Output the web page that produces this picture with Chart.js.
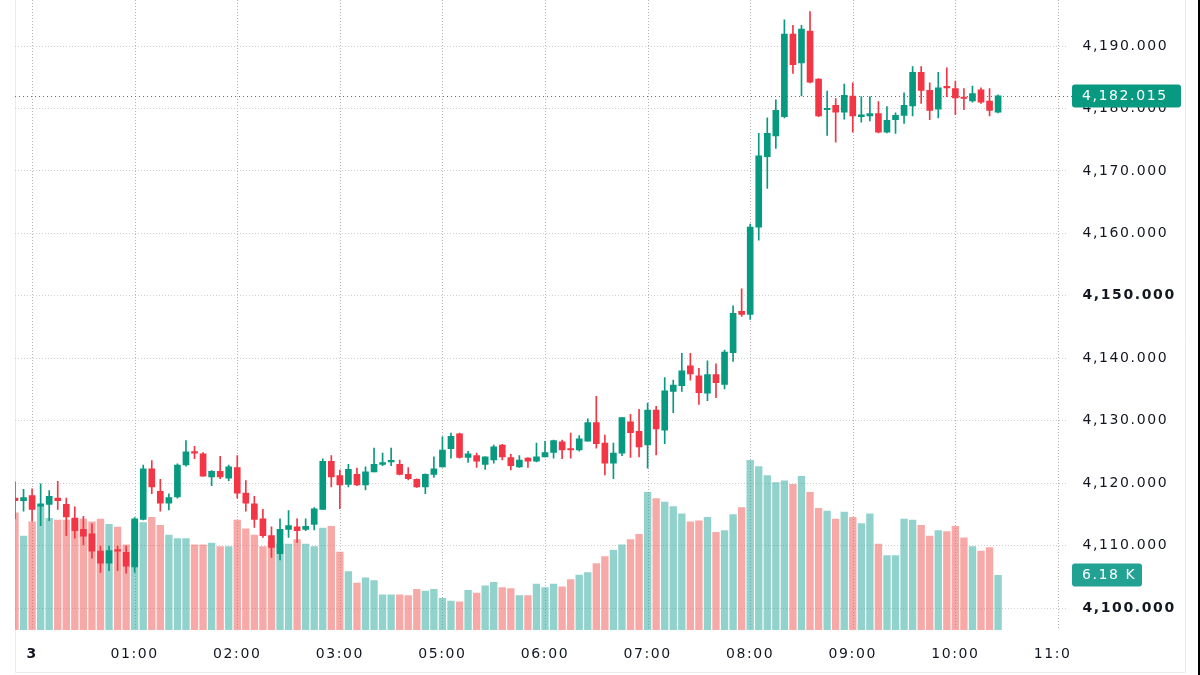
<!DOCTYPE html>
<html>
<head>
<meta charset="utf-8">
<script src="https://cdn.jsdelivr.net/npm/chart.js@4.4.1/dist/chart.umd.min.js"></script>
<style>
  html, body { margin: 0; padding: 0; background: #fff; }
  canvas { display: block; }
</style>
</head>
<body>
<canvas id="chart" width="1200" height="675"></canvas>
<script>
// 5 minute candles, 23:50 -> 10:25 (no bars during the 04:00 hour)
const opens = [
  4117.6, 4117.2, 4118.0, 4116.3, 4116.6, 4117.6, 4116.6, 4114.4, 4112.6, 4111.9,
  4109.1, 4107.2, 4109.3, 4108.9, 4106.6, 4114.2, 4122.3, 4118.7, 4116.8, 4117.8,
  4122.9, 4125.0, 4124.7, 4121.0, 4121.9, 4120.8, 4122.5, 4118.4, 4116.7, 4114.3,
  4111.6, 4108.7, 4112.6, 4113.0, 4112.6, 4113.4, 4115.8, 4123.5, 4121.2, 4119.8,
  4121.4, 4119.7, 4121.8, 4123.0, 4123.4, 4123.0, 4121.4, 4120.6, 4119.4, 4121.4,
  4122.6, 4125.5, 4127.9, 4124.1, 4124.4, 4123.0, 4123.7, 4126.1, 4124.1, 4122.6,
  4124.0, 4123.5, 4124.2, 4124.9, 4126.6, 4125.4, 4125.3, 4126.7, 4129.7, 4126.4,
  4123.2, 4124.8, 4129.8, 4128.3, 4126.1, 4131.7, 4128.5, 4134.7, 4135.6, 4138.8,
  4137.2, 4134.4, 4137.4, 4135.8, 4140.9, 4147.5, 4147.0, 4161.0, 4172.3, 4175.6,
  4178.7, 4191.9, 4187.3, 4192.4, 4184.7, 4179.8, 4180.5, 4179.4, 4182.0, 4178.7,
  4178.8, 4179.2, 4176.2, 4178.2, 4178.9, 4180.4, 4185.8, 4182.9, 4179.9, 4183.5,
  4183.2, 4181.7, 4181.2, 4183.0, 4181.2, 4179.4
];
const highs = [
  4120.2, 4119.0, 4119.1, 4119.9, 4118.8, 4120.3, 4117.6, 4116.2, 4114.7, 4113.5,
  4109.9, 4109.9, 4109.9, 4109.9, 4114.5, 4122.9, 4123.6, 4120.6, 4118.3, 4123.1,
  4126.8, 4125.9, 4124.9, 4122.0, 4124.3, 4122.9, 4124.4, 4120.4, 4117.9, 4115.8,
  4113.0, 4114.3, 4115.6, 4114.3, 4114.3, 4116.1, 4123.9, 4124.4, 4122.1, 4123.0,
  4122.4, 4122.6, 4125.6, 4124.8, 4125.6, 4123.7, 4122.5, 4120.7, 4121.5, 4124.2,
  4127.4, 4128.0, 4128.0, 4125.1, 4124.8, 4124.2, 4126.1, 4126.2, 4124.6, 4124.4,
  4124.1, 4126.4, 4126.7, 4126.9, 4126.9, 4128.0, 4127.6, 4130.3, 4133.9, 4127.7,
  4126.4, 4130.5, 4131.0, 4131.8, 4132.8, 4132.3, 4136.9, 4136.5, 4140.8, 4140.8,
  4138.4, 4139.6, 4139.1, 4141.3, 4148.4, 4151.1, 4161.5, 4176.0, 4178.5, 4181.4,
  4194.2, 4193.3, 4193.3, 4195.5, 4184.8, 4182.8, 4181.6, 4183.9, 4184.1, 4181.9,
  4181.9, 4181.1, 4180.3, 4179.3, 4182.5, 4186.7, 4186.7, 4184.1, 4185.8, 4186.5,
  4184.4, 4183.2, 4183.6, 4183.3, 4183.2, 4182.2
];
const lows = [
  4114.3, 4115.5, 4113.9, 4113.2, 4114.0, 4115.8, 4111.6, 4111.2, 4110.1, 4108.0,
  4105.7, 4106.0, 4106.0, 4105.6, 4105.7, 4114.1, 4118.3, 4115.5, 4115.7, 4117.6,
  4122.7, 4123.9, 4121.1, 4119.6, 4120.7, 4120.4, 4117.6, 4115.5, 4112.9, 4111.3,
  4108.1, 4107.7, 4111.3, 4110.5, 4112.4, 4112.5, 4115.8, 4119.4, 4115.9, 4119.4,
  4119.6, 4118.9, 4121.8, 4122.8, 4122.8, 4121.3, 4120.5, 4119.3, 4118.3, 4120.9,
  4122.6, 4124.0, 4124.0, 4123.3, 4122.5, 4122.2, 4123.2, 4123.7, 4122.1, 4122.5,
  4122.5, 4123.4, 4124.2, 4124.0, 4123.9, 4124.0, 4125.1, 4126.7, 4125.6, 4121.3,
  4120.7, 4124.4, 4124.1, 4124.2, 4122.4, 4124.5, 4126.3, 4131.3, 4134.7, 4136.5,
  4132.6, 4133.2, 4133.7, 4135.1, 4139.5, 4146.7, 4146.2, 4158.9, 4167.2, 4173.6,
  4178.5, 4185.6, 4182.0, 4184.1, 4178.7, 4175.7, 4174.6, 4178.3, 4176.2, 4177.8,
  4178.0, 4176.1, 4176.1, 4176.0, 4177.6, 4178.8, 4180.8, 4178.2, 4178.5, 4181.9,
  4179.0, 4179.8, 4181.0, 4180.8, 4178.8, 4179.3
];
const closes = [
  4117.2, 4117.7, 4115.8, 4116.7, 4117.9, 4117.2, 4114.6, 4112.4, 4111.5, 4109.1,
  4107.2, 4109.2, 4109.1, 4106.7, 4114.3, 4122.3, 4119.4, 4116.8, 4117.7, 4122.9,
  4125.0, 4124.8, 4121.1, 4121.9, 4121.0, 4122.6, 4118.4, 4116.8, 4114.2, 4111.6,
  4109.7, 4112.6, 4113.2, 4112.4, 4113.1, 4115.9, 4123.5, 4121.0, 4119.7, 4122.2,
  4119.7, 4121.8, 4123.0, 4123.3, 4123.6, 4121.4, 4120.7, 4119.4, 4121.4, 4122.3,
  4125.3, 4127.5, 4124.1, 4124.7, 4123.5, 4124.2, 4125.8, 4124.2, 4122.8, 4123.7,
  4123.5, 4124.2, 4124.9, 4126.8, 4125.3, 4125.3, 4127.1, 4129.7, 4126.3, 4123.2,
  4124.8, 4130.5, 4128.1, 4125.8, 4131.7, 4128.7, 4134.8, 4135.7, 4138.0, 4137.5,
  4134.5, 4137.4, 4136.1, 4141.0, 4147.2, 4147.0, 4161.0, 4172.4, 4176.0, 4179.7,
  4191.9, 4187.0, 4192.7, 4184.2, 4178.8, 4180.0, 4179.4, 4182.1, 4178.8, 4179.0,
  4179.2, 4176.2, 4178.1, 4178.9, 4180.5, 4185.8, 4182.9, 4179.7, 4183.3, 4183.3,
  4181.7, 4181.6, 4182.4, 4181.0, 4179.7, 4182.015
];
const volumes = [
  13200, 10600, 12200, 14000, 12600, 12400, 12400, 12500, 12500, 12200,
  12500, 11900, 11600, 9600, 12400, 12100, 12700, 11800, 10700, 10300,
  10300, 9600, 9600, 9800, 9400, 9400, 12400, 11400, 10700, 9400,
  10000, 9700, 9700, 10200, 9700, 9400, 11500, 11700, 8800, 6600,
  5300, 5900, 5600, 4000, 4000, 4000, 3900, 4600, 4400, 4600,
  3600, 3300, 3200, 4500, 4200, 5000, 5400, 4800, 4700, 3900,
  3900, 5200, 4800, 5200, 4900, 5700, 6200, 6500, 7500, 8300,
  9000, 9600, 10200, 10800, 15500, 14800, 14400, 13900, 13100, 12200,
  12300, 12700, 11000, 11200, 13000, 13800, 19100, 18400, 17400, 16600,
  16800, 16400, 17300, 15500, 13700, 13400, 12500, 13300, 12700, 12000,
  13100, 9700, 8400, 8400, 12500, 12400, 11800, 10600, 11200, 11100,
  11700, 10400, 9400, 8900, 9300, 6180
];

// time axis categories
const sessionHours = ['00', '01', '02', '03', '05', '06', '07', '08', '09', '10'];
const minuteMarks = ['00', '05', '10', '15', '20', '25', '30', '35', '40', '45', '50', '55'];
const labels = ['23:50', '23:55'];
sessionHours.forEach(h => minuteMarks.forEach(m => labels.push(h + ':' + m)));
labels.push('11:00', '11:05');

const dayLabel = '3';
const priceMin = 4096.48;
const priceMax = 4197.37;
const volumeMax = 70800;

const UP = '#089981';
const DOWN = '#f23645';
const UP_VOL = 'rgba(38, 166, 154, 0.5)';
const DOWN_VOL = 'rgba(239, 83, 80, 0.5)';
const GRID = '#cfcfcf';
const VGRID = '#b4b4b4';
const FONT = 'DejaVu Sans';
const TEXT = '#131722';

const isUp = closes.map((c, i) => c >= opens[i]);
const hourTick = (i) => labels[i] && labels[i].endsWith(':00');
const fmtPrice = (v) => v.toLocaleString('en-US', { minimumFractionDigits: 3, maximumFractionDigits: 3 });

const chrome = {
  id: 'chrome',
  beforeDraw(chart) {
    const c = chart.ctx;
    c.letterSpacing = '1.6px';
    c.save();
    c.fillStyle = '#ffffff';
    c.fillRect(0, 0, chart.width, chart.height);
    c.strokeStyle = '#ececec';
    c.lineWidth = 1;
    c.beginPath();
    c.moveTo(15.5, 0);
    c.lineTo(15.5, 672.5);
    c.lineTo(1185.5, 672.5);
    c.lineTo(1185.5, 0);
    c.stroke();
    c.fillStyle = '#000000';
    c.fillRect(1198, 0, 2, chart.height);
    c.restore();
  },
  beforeDatasetsDraw(chart) {
    // vertical dotted lines on the hour ticks
    const c = chart.ctx;
    const a = chart.chartArea;
    const xs = chart.scales.x;
    c.save();
    c.strokeStyle = VGRID;
    c.lineWidth = 1;
    c.setLineDash([1, 2]);
    labels.forEach((lab, i) => {
      if (!hourTick(i)) return;
      const x = Math.round(xs.getPixelForValue(i)) + 0.5;
      c.beginPath();
      c.moveTo(x, a.top);
      c.lineTo(x, a.bottom);
      c.stroke();
    });
    c.restore();
  },
  afterDatasetsDraw(chart) {
    const c = chart.ctx;
    const a = chart.chartArea;
    const y = Math.round(chart.scales.y.getPixelForValue(closes[closes.length - 1])) + 0.5;
    c.save();
    c.strokeStyle = UP;
    c.lineWidth = 1;
    c.setLineDash([1, 3]);
    c.beginPath();
    c.moveTo(a.left, y);
    c.lineTo(a.right + 6, y);
    c.stroke();
    c.restore();
  },
  afterDraw(chart) {
    const c = chart.ctx;
    const a = chart.chartArea;
    const xs = chart.scales.x;

    // time labels, clipped at the plot edge
    c.save();
    c.beginPath();
    c.rect(0, a.bottom, a.right + 4, chart.height - a.bottom);
    c.clip();
    c.fillStyle = TEXT;
    c.textAlign = 'center';
    c.textBaseline = 'middle';
    labels.forEach((lab, i) => {
      if (!hourTick(i)) return;
      const bold = lab === '00:00';
      c.font = (bold ? 'bold ' : '') + '14px "' + FONT + '"';
      c.fillText(bold ? dayLabel : lab, xs.getPixelForValue(i), a.bottom + 24);
    });
    c.restore();

    // last price / last volume tags
    const tag = (y, w, color, text) => {
      c.save();
      c.fillStyle = color;
      c.beginPath();
      c.roundRect(1072, y - 11.5, w, 23, 3);
      c.fill();
      c.fillStyle = '#ffffff';
      c.font = '14px "' + FONT + '"';
      c.textAlign = 'left';
      c.textBaseline = 'middle';
      c.fillText(text, 1082, y + 0.5);
      c.restore();
    };
    const lastVol = volumes[volumes.length - 1];
    tag(chart.scales.yv.getPixelForValue(lastVol), 70, '#22a293', (lastVol / 1000).toFixed(2) + ' K');
    tag(chart.scales.y.getPixelForValue(closes[closes.length - 1]), 109, UP, fmtPrice(closes[closes.length - 1]));
  }
};

const ctx = document.getElementById('chart').getContext('2d');
const chart = new Chart(ctx, {
  type: 'bar',
  data: {
    labels: labels,
    datasets: [
      {
        label: 'body',
        data: opens.map((o, i) => [o, closes[i]]),
        backgroundColor: isUp.map(u => (u ? UP : DOWN)),
        barThickness: 6,
        minBarLength: 1.5,
        grouped: false,
        yAxisID: 'y',
        order: 1,
      },
      {
        label: 'wick',
        data: lows.map((l, i) => [l, highs[i]]),
        backgroundColor: isUp.map(u => (u ? UP : DOWN)),
        barThickness: 1,
        grouped: false,
        yAxisID: 'y',
        order: 2,
      },
      {
        label: 'volume',
        data: volumes,
        backgroundColor: isUp.map(u => (u ? UP_VOL : DOWN_VOL)),
        barPercentage: 0.86,
        categoryPercentage: 1,
        grouped: false,
        yAxisID: 'yv',
        order: 3,
      },
    ],
  },
  options: {
    responsive: false,
    animation: false,
    layout: { padding: { left: 15, top: 0, right: 0, bottom: 0 } },
    plugins: {
      legend: { display: false },
      tooltip: { enabled: false },
    },
    scales: {
      x: {
        type: 'category',
        offset: false,
        grid: { display: false },
        border: { display: false },
        ticks: { display: false, autoSkip: false },
        afterFit(s) {
          s.height = 45;
          s.paddingLeft = 0;
          s.paddingRight = 0;
        },
      },
      y: {
        position: 'right',
        min: priceMin,
        max: priceMax,
        grid: { drawTicks: false, color: GRID },
        border: { display: false, dash: [1, 2] },
        ticks: {
          stepSize: 10,
          includeBounds: false,
          padding: 16,
          color: TEXT,
          font: (c) => ({
            family: FONT,
            size: 14,
            weight: c.tick && c.tick.value % 50 === 0 ? 'bold' : 'normal',
          }),
          callback: (v) => fmtPrice(v),
        },
        afterFit(s) {
          s.width = 133.5;
          s.paddingTop = 0;
          s.paddingBottom = 0;
        },
      },
      yv: {
        display: false,
        min: 0,
        max: volumeMax,
      },
    },
  },
  plugins: [chrome],
});
</script>
</body>
</html>
